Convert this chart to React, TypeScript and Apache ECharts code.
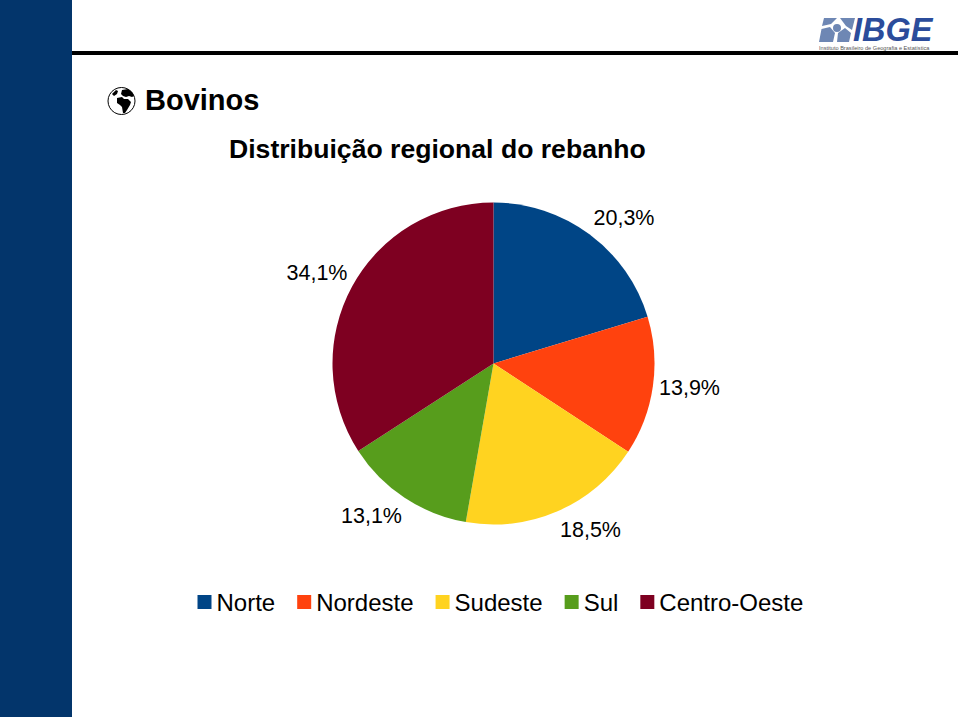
import React, { useEffect, useRef } from "react";
import * as echarts from "echarts";

const categories = ["Norte", "Nordeste", "Sudeste", "Sul", "Centro-Oeste"];
const values = [20.3, 13.9, 18.5, 13.1, 34.1];
const valueLabels = ["20,3%", "13,9%", "18,5%", "13,1%", "34,1%"];
const colors = ["#004586", "#FF420E", "#FFD320", "#579D1C", "#7E0021"];
const pageTitle = "Bovinos";
const chartTitle = "Distribuição regional do rebanho";
const logoName = "IBGE";
const logoCaption = "Instituto Brasileiro de Geografia e Estatística";
const labelCentres = [
  [624, 218],
  [689.5, 388],
  [590.5, 530],
  [371.5, 516],
  [317, 273],
];

echarts.graphic.registerShape(
  "globeLand",
  echarts.graphic.extendPath(
    "M9 11 L14 10 L16 12 L20 12 L23 15 L22 18 L19 23 L17 26 L15 26 L14 20 L12 18 L9 16 Z M14 3 L20 2 L24 5 L26 9 L24 10 L21 9 L18 10 L15 9 L13 7 Z M4 7 L8 3 L10 4 L9 7 L6 9 Z",
    {}
  )
);
echarts.graphic.registerShape(
  "logoMark",
  echarts.graphic.extendPath(
    "M4 0 L17 0 L11 6 L2 8 Z M20 0 L35 0 L32 12 L26 8 L23 4 Z M1.5 11 L10 9 L15 15 L13 24 L-1 24 Z M18 15 L25 10 L31 15 L29 24 L17 24 Z M13 10 A4 4 0 1 0 21 10 A4 4 0 1 0 13 10 Z",
    {}
  )
);

export default function App() {
  const ref = useRef<HTMLDivElement>(null);
  useEffect(() => {
    document.body.style.margin = "0";
    const chart = echarts.init(ref.current!, undefined, { renderer: "svg" });
    chart.setOption({
      animation: false,
      backgroundColor: "#ffffff",
      color: colors,
      textStyle: { fontFamily: "Liberation Sans" },
      legend: {
        left: 197.5,
        top: 590,
        padding: 0,
        itemWidth: 14,
        itemHeight: 14,
        itemGap: 22,
        icon: "rect",
        selectedMode: false,
        data: categories,
        textStyle: { fontSize: 24, color: "#000", fontFamily: "Liberation Sans" },
      },
      graphic: [
        { type: "rect", shape: { x: 0, y: 0, width: 72, height: 717 }, style: { fill: "#03356B" } },
        { type: "rect", shape: { x: 72, y: 51, width: 886, height: 4 }, style: { fill: "#000" } },
        { type: "circle", shape: { cx: 121.5, cy: 101, r: 13.5 }, style: { fill: "#fff", stroke: "#000", lineWidth: 1 } },
        { type: "globeLand", x: 108, y: 87, style: { fill: "#000" } },
        { type: "text", x: 145, y: 100, style: { text: pageTitle, fill: "#000", font: "bold 29px Liberation Sans", textVerticalAlign: "middle" } },
        { type: "text", x: 229, y: 149, style: { text: chartTitle, fill: "#000", font: "bold 26.6px Liberation Sans", textVerticalAlign: "middle" } },
        { type: "logoMark", x: 820, y: 18, style: { fill: "#6E87B4" } },
        { type: "text", x: 853, y: 30, style: { text: logoName, fill: "#2B4C9B", font: "italic bold 32.5px Liberation Sans", lineHeight: 24, textVerticalAlign: "middle" } },
        { type: "text", x: 819, y: 47.5, style: { text: logoCaption, fill: "#555", font: "5.6px Liberation Sans", textVerticalAlign: "middle" } },
      ],
      series: [
        {
          type: "pie",
          center: [493.5, 363.5],
          radius: [0, 161],
          startAngle: 90,
          clockwise: true,
          silent: true,
          data: categories.map((name, i) => ({ name, value: values[i] })),
          label: {
            show: true,
            position: "outside",
            formatter: (p: any) => valueLabels[p.dataIndex],
            fontSize: 21.5,
            color: "#000",
            fontFamily: "Liberation Sans",
            align: "center",
            verticalAlign: "middle",
          },
          labelLine: { show: false },
          labelLayout: (p: any) => ({
            x: labelCentres[p.dataIndex][0],
            y: labelCentres[p.dataIndex][1],
            align: "center",
            verticalAlign: "middle",
          }),
        },
      ],
    });
    return () => chart.dispose();
  }, []);
  return <div ref={ref} style={{ position: "fixed", left: 0, top: 0, width: 960, height: 720 }} />;
}
